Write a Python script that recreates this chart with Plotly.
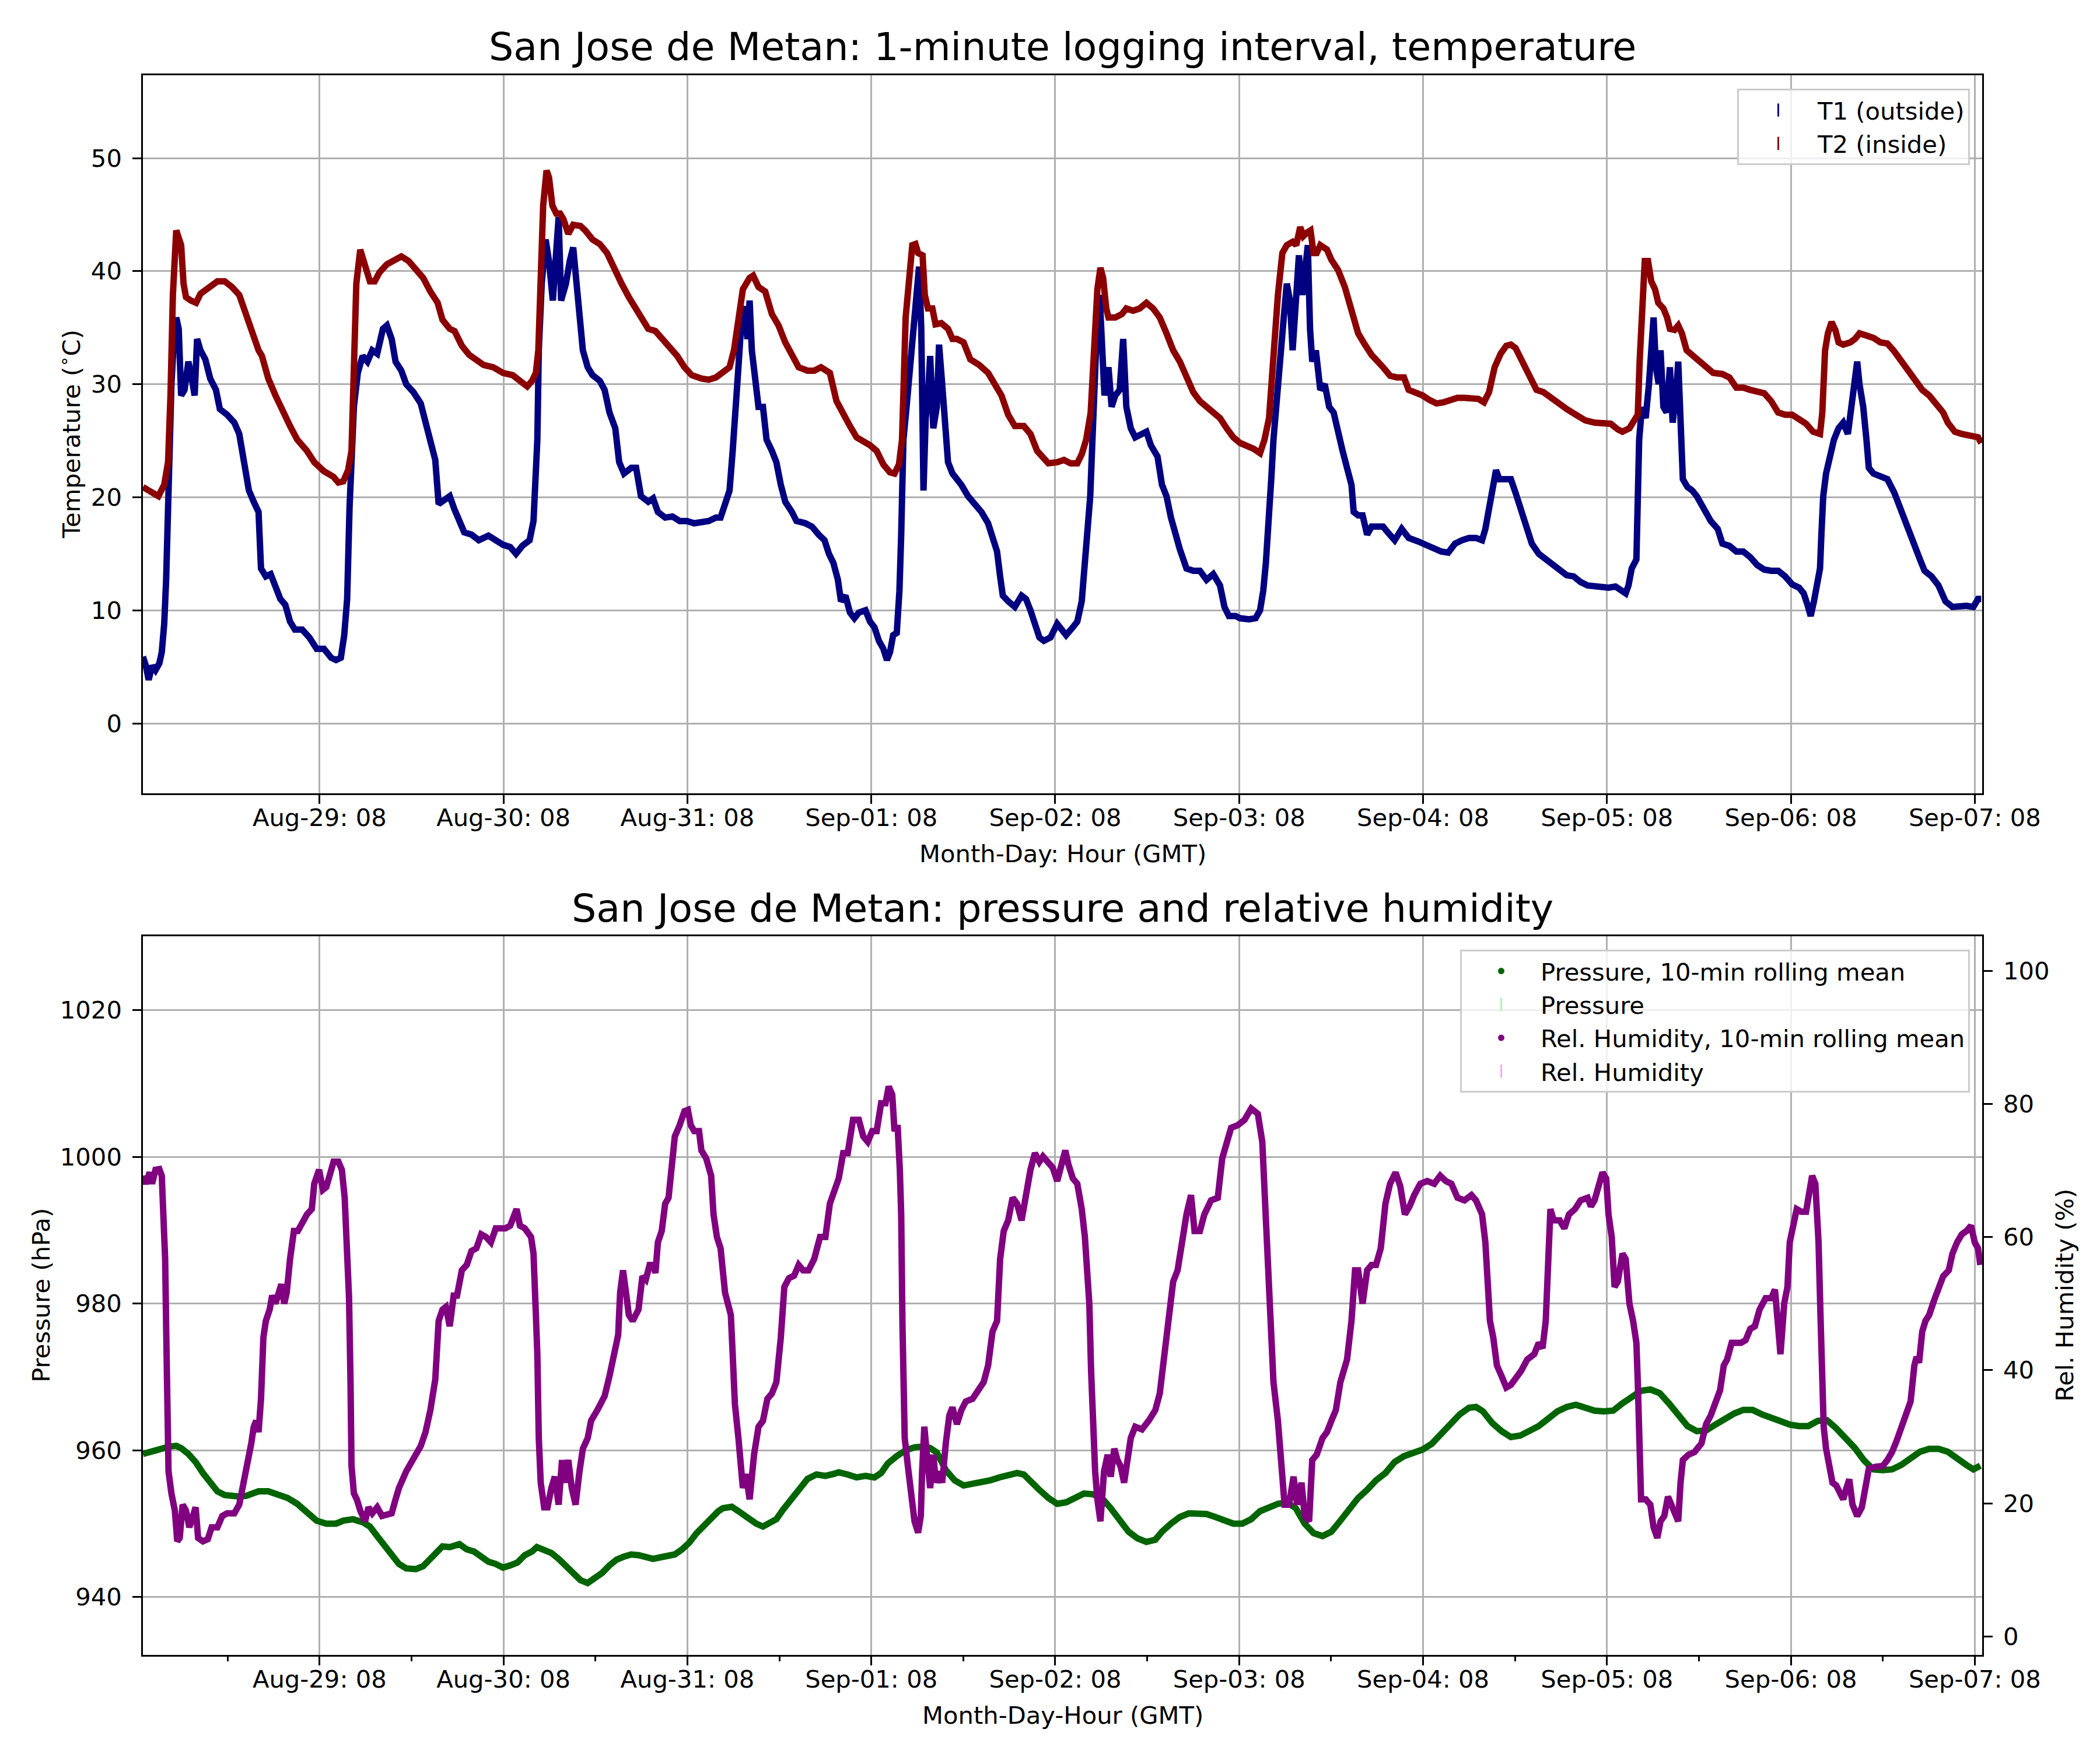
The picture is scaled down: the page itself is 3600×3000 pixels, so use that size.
import pandas as pd
import plotly.graph_objects as go

# all times are hours after 2022-08-28 00:00 GMT
START = pd.Timestamp("2022-08-28 00:00")

# outside temperature T1 (deg C)
T1_OUTSIDE = [
    (8.95, 5.9), (9.33, 5.1), (9.70, 3.85), (10.15, 5.1), (10.59, 4.7), (11.09, 5.3), (11.41, 6.3),
    (11.73, 8.8), (11.98, 12.7), (12.17, 19.2), (12.42, 26.1), (12.67, 30.0), (12.99, 34.0),
    (13.30, 35.9), (13.62, 34.9), (13.94, 29.0), (14.38, 29.5), (14.88, 32.0), (15.33, 30.5),
    (15.70, 29.0), (16.02, 34.0), (16.46, 33.0), (17.09, 32.2), (17.73, 30.5), (18.48, 29.5),
    (18.99, 27.8), (19.94, 27.3), (20.88, 26.6), (21.52, 25.6), (22.15, 23.1), (22.78, 20.6),
    (23.41, 19.6), (24.04, 18.7), (24.36, 13.7), (24.99, 13.0), (25.62, 13.2), (26.25, 12.2),
    (26.88, 11.0), (27.52, 10.5), (28.15, 9.0), (28.78, 8.3), (29.73, 8.3), (30.67, 7.6),
    (31.62, 6.6), (32.57, 6.6), (33.52, 5.8), (34.15, 5.6), (34.78, 5.8), (35.22, 7.8),
    (35.60, 11.0), (35.92, 19.2), (36.17, 23.1), (36.48, 28.0), (36.99, 31.0), (37.62, 32.5),
    (38.25, 32.0), (38.88, 33.0), (39.52, 32.7), (40.27, 34.9), (40.78, 35.2), (41.41, 34.0),
    (41.92, 32.0), (42.67, 31.2), (43.31, 30.0), (44.25, 29.3), (45.20, 28.3), (45.83, 26.6),
    (46.46, 24.6), (47.10, 23.3), (47.54, 19.4), (48.36, 19.9), (48.99, 20.1), (49.62, 18.9),
    (50.25, 17.7), (50.88, 16.9), (51.83, 16.7), (52.78, 16.2), (54.04, 16.6), (54.99, 16.2),
    (55.94, 15.8), (56.88, 15.6), (57.64, 15.0), (58.46, 15.7), (59.41, 16.2), (59.92, 17.9),
    (60.17, 20.6), (60.42, 25.1), (60.61, 33.0), (60.99, 38.9), (61.50, 42.8), (61.94, 40.9),
    (62.44, 37.4), (62.89, 41.9), (63.20, 44.8), (63.52, 37.4), (64.15, 38.9), (64.65, 40.9),
    (65.10, 42.1), (65.54, 38.9), (65.92, 35.4), (66.36, 33.0), (66.99, 31.5), (67.62, 30.8),
    (68.57, 30.3), (69.20, 29.5), (69.83, 27.5), (70.59, 26.1), (71.10, 23.1), (71.73, 22.1),
    (72.67, 22.6), (73.31, 22.6), (73.94, 20.1), (74.89, 19.6), (75.52, 19.9), (76.15, 18.7),
    (77.10, 18.2), (78.04, 18.3), (78.99, 17.9), (79.94, 17.9), (80.89, 17.7), (81.83, 17.8),
    (82.78, 17.9), (83.73, 18.2), (84.33, 18.2), (84.92, 19.4), (85.50, 20.6), (85.91, 24.1),
    (86.26, 28.5), (86.66, 31.5), (87.07, 35.9), (87.42, 36.9), (87.83, 34.0), (88.12, 37.4),
    (88.41, 33.0), (88.82, 30.0), (89.28, 28.0), (89.86, 28.0), (90.33, 25.1), (91.03, 24.1),
    (91.61, 23.1), (92.19, 21.1), (92.77, 19.6), (93.64, 18.7), (94.23, 17.9), (95.39, 17.7),
    (96.26, 17.4), (97.13, 16.7), (97.89, 16.2), (98.47, 15.0), (99.05, 14.2), (99.64, 12.7),
    (100.04, 10.8), (100.63, 11.3), (101.21, 9.8), (101.79, 9.3), (102.37, 9.8), (103.24, 10.0),
    (103.83, 9.0), (104.41, 8.5), (104.99, 7.3), (105.57, 6.6), (106.04, 5.6), (106.44, 6.3),
    (106.85, 7.8), (107.32, 8.0), (107.67, 11.7), (107.90, 16.7), (108.19, 25.1), (108.60, 28.0),
    (109.06, 31.5), (109.53, 35.4), (109.93, 38.4), (110.23, 40.4), (110.52, 34.9), (110.81, 20.6),
    (111.10, 27.0), (111.39, 29.0), (111.68, 32.5), (112.09, 26.1), (112.55, 28.0), (112.84, 33.5),
    (113.25, 30.0), (113.72, 26.6), (114.01, 23.1), (114.59, 22.1), (115.17, 21.6), (115.75, 21.1),
    (116.62, 20.1), (117.50, 19.4), (118.37, 18.7), (119.24, 17.7), (119.82, 16.2), (120.41, 15.2),
    (120.81, 13.0), (121.16, 11.3), (121.86, 10.8), (122.73, 10.3), (123.61, 11.3), (124.19, 11.0),
    (124.77, 10.0), (125.35, 8.8), (125.93, 7.6), (126.52, 7.3), (127.39, 7.6), (128.26, 8.8),
    (128.84, 8.3), (129.42, 7.8), (130.30, 8.5), (130.88, 9.0), (131.46, 10.8), (131.87, 13.7),
    (132.22, 16.7), (132.57, 20.1), (132.80, 24.1), (133.03, 29.0), (133.38, 34.0), (133.79, 37.9),
    (134.08, 34.0), (134.43, 29.0), (134.95, 31.5), (135.36, 28.0), (135.83, 29.0), (136.41, 29.5),
    (136.87, 34.0), (137.28, 28.0), (137.86, 26.1), (138.44, 25.3), (139.32, 25.6), (139.90, 25.8),
    (140.48, 24.6), (141.35, 23.6), (141.93, 21.1), (142.52, 20.1), (143.10, 18.2), (143.68, 16.7),
    (144.26, 15.4), (145.13, 13.7), (146.01, 13.5), (146.88, 13.5), (147.75, 12.7), (148.62, 13.2),
    (149.50, 12.2), (150.08, 10.3), (150.66, 9.5), (151.53, 9.5), (152.12, 9.3), (153.28, 9.2),
    (154.15, 9.3), (154.73, 10.0), (155.14, 11.7), (155.49, 14.2), (155.90, 17.7), (156.19, 21.6),
    (156.48, 25.1), (156.89, 28.0), (157.35, 32.0), (157.82, 35.9), (158.22, 38.9), (158.63, 37.4),
    (158.98, 33.0), (159.39, 37.9), (159.80, 41.4), (160.26, 37.9), (160.67, 41.4), (160.96, 42.3),
    (161.25, 34.9), (161.54, 32.0), (162.01, 33.0), (162.59, 29.5), (163.17, 30.0), (163.75, 28.0),
    (164.33, 27.5), (164.91, 25.6), (165.50, 24.1), (166.08, 22.6), (166.66, 21.1), (166.95, 18.7),
    (167.53, 18.4), (168.11, 18.4), (168.70, 16.7), (169.28, 17.4), (169.86, 17.4), (170.78, 17.4),
    (171.39, 16.9), (172.30, 16.2), (173.21, 17.2), (174.12, 16.4), (175.33, 16.1), (176.55, 15.7),
    (177.46, 15.4), (178.37, 15.2), (179.28, 15.1), (180.18, 15.9), (181.09, 16.2), (182.00, 16.4),
    (182.91, 16.4), (183.70, 16.2), (184.13, 17.2), (184.73, 19.2), (185.16, 21.1), (185.52, 22.4),
    (185.95, 21.6), (186.86, 21.6), (187.46, 21.6), (188.07, 20.4), (188.68, 19.2), (189.28, 17.7),
    (190.19, 15.9), (191.10, 15.0), (192.01, 14.5), (192.92, 14.0), (193.83, 13.5), (194.74, 13.1),
    (195.65, 13.0), (196.56, 12.5), (197.47, 12.2), (198.38, 12.1), (199.29, 12.0), (200.20, 12.0),
    (201.11, 12.1), (201.72, 11.8), (202.44, 11.5), (202.81, 12.2), (203.23, 13.7), (203.84, 14.5),
    (204.02, 19.2), (204.20, 25.1), (204.57, 28.0), (205.05, 27.0), (205.48, 30.0), (205.78, 33.0),
    (206.08, 35.9), (206.39, 31.5), (206.75, 30.0), (206.99, 33.0), (207.36, 28.0), (207.78, 27.5),
    (208.21, 31.5), (208.57, 26.6), (208.99, 29.0), (209.30, 32.0), (209.60, 24.1), (209.90, 21.6),
    (210.51, 20.9), (211.12, 20.6), (211.72, 20.1), (212.33, 19.4), (212.94, 18.7), (213.54, 17.9),
    (214.45, 17.2), (215.06, 15.9), (215.97, 15.7), (216.88, 15.2), (217.79, 15.2), (218.70, 14.7),
    (219.61, 14.0), (220.52, 13.6), (221.43, 13.5), (222.34, 13.5), (223.25, 13.0), (224.16, 12.3),
    (225.07, 12.0), (225.67, 11.5), (226.16, 10.5), (226.58, 9.5), (227.01, 10.8), (227.49, 12.2),
    (227.80, 13.7), (227.98, 16.7), (228.22, 20.1), (228.59, 22.1), (229.01, 23.6), (229.62, 25.1),
    (230.22, 26.1), (230.83, 26.6), (231.44, 25.6), (231.86, 28.0), (232.22, 29.5), (232.65, 32.0),
    (232.95, 30.0), (233.44, 28.0), (233.86, 25.1), (234.17, 22.6), (234.77, 22.1), (235.68, 21.8),
    (236.59, 21.6), (237.50, 20.4), (238.41, 18.7), (239.32, 17.2), (240.23, 15.7), (240.84, 14.5),
    (241.44, 13.5), (242.35, 13.0), (243.26, 12.2), (244.17, 10.8), (245.08, 10.3), (245.99, 10.4),
    (246.90, 10.4), (247.81, 10.3), (248.42, 11.0), (248.84, 11.0),
]

# inside temperature T2 (deg C)
T2_INSIDE = [
    (8.95, 20.9), (9.83, 20.6), (10.97, 20.1), (11.73, 21.1), (12.23, 23.1), (12.55, 29.0),
    (12.86, 37.9), (13.30, 43.6), (13.94, 42.3), (14.25, 38.9), (14.57, 37.7), (15.20, 37.4),
    (15.89, 37.2), (16.46, 38.0), (17.41, 38.5), (18.67, 39.1), (19.62, 39.1), (20.57, 38.6),
    (21.52, 37.9), (22.46, 35.9), (23.41, 34.0), (24.04, 33.0), (24.48, 32.5), (25.31, 30.5),
    (26.25, 29.0), (27.20, 27.5), (28.15, 26.3), (29.09, 25.1), (30.36, 24.1), (31.31, 23.1),
    (32.57, 22.3), (33.83, 21.8), (34.46, 21.3), (35.09, 21.4), (35.73, 22.4), (36.17, 24.1),
    (36.48, 31.5), (36.80, 38.9), (37.31, 41.9), (37.94, 40.4), (38.57, 39.1), (39.20, 39.1),
    (39.83, 39.9), (40.78, 40.6), (41.73, 41.0), (42.67, 41.3), (43.62, 40.9), (44.57, 40.1),
    (45.52, 39.4), (46.46, 38.2), (47.41, 37.2), (48.04, 35.7), (48.99, 34.9), (49.62, 34.7),
    (50.57, 33.4), (51.52, 32.6), (52.46, 32.2), (53.41, 31.7), (54.67, 31.5), (55.94, 31.0),
    (57.20, 30.8), (58.15, 30.3), (59.10, 29.8), (59.73, 30.3), (60.23, 31.0), (60.55, 33.0),
    (60.86, 39.9), (61.18, 45.8), (61.62, 48.9), (61.94, 48.3), (62.38, 45.8), (62.89, 45.1),
    (63.39, 45.1), (63.83, 44.6), (64.46, 43.3), (65.10, 44.1), (66.04, 44.0), (66.67, 43.6),
    (67.62, 42.8), (68.57, 42.4), (69.52, 41.6), (70.46, 40.1), (71.41, 38.9), (72.36, 37.7),
    (73.62, 36.4), (74.89, 34.9), (75.83, 34.7), (76.78, 34.0), (77.73, 33.2), (78.67, 32.5),
    (79.62, 31.5), (80.57, 30.8), (81.83, 30.5), (82.78, 30.4), (83.73, 30.6), (84.04, 30.75),
    (85.50, 31.5), (86.08, 33.0), (86.66, 35.9), (87.24, 38.4), (88.12, 39.4), (88.58, 39.6),
    (89.28, 38.6), (90.15, 38.2), (91.03, 36.2), (91.90, 35.2), (92.77, 33.7), (93.64, 32.5),
    (94.52, 31.5), (95.68, 31.2), (96.55, 31.2), (97.43, 31.5), (98.59, 31.0), (99.46, 28.5),
    (100.33, 27.3), (101.21, 26.3), (102.08, 25.3), (102.95, 25.0), (103.83, 24.6), (104.70, 24.1),
    (105.57, 22.9), (106.44, 22.2), (107.03, 22.1), (107.61, 22.9), (108.01, 25.1), (108.48, 35.9),
    (108.95, 39.9), (109.35, 42.3), (109.76, 42.4), (110.11, 41.6), (110.69, 41.4), (110.98, 37.9),
    (111.39, 36.7), (111.97, 36.7), (112.38, 35.3), (113.13, 35.4), (114.01, 34.9), (114.59, 34.0),
    (115.17, 34.0), (116.04, 33.7), (116.92, 32.2), (118.08, 31.7), (119.24, 31.0), (120.12, 30.0),
    (120.99, 29.0), (121.86, 27.3), (122.73, 26.3), (123.90, 26.3), (124.77, 25.6), (125.64, 24.1),
    (126.52, 23.5), (127.10, 23.0), (128.26, 23.1), (129.13, 23.3), (130.01, 23.0), (130.88, 23.0),
    (131.46, 23.8), (132.04, 25.1), (132.63, 27.5), (133.03, 34.0), (133.50, 38.4), (133.90, 40.3),
    (134.25, 39.4), (134.66, 36.7), (134.95, 35.9), (135.83, 35.9), (136.70, 36.2), (137.28, 36.7),
    (138.15, 36.5), (139.02, 36.7), (139.90, 37.2), (140.77, 36.7), (141.64, 35.9), (142.52, 34.5),
    (143.39, 33.0), (144.26, 32.0), (145.13, 30.8), (146.01, 29.3), (146.88, 28.5), (147.75, 28.0),
    (148.62, 27.5), (149.50, 27.0), (150.37, 26.1), (151.24, 25.3), (152.12, 24.8), (152.99, 24.6),
    (153.86, 24.3), (154.73, 23.9), (155.31, 25.1), (155.90, 27.0), (156.48, 33.0), (157.06, 37.9),
    (157.64, 41.6), (158.22, 42.3), (158.98, 42.6), (159.45, 42.3), (159.97, 43.9), (160.38, 43.1),
    (160.84, 43.4), (161.31, 43.6), (161.71, 41.6), (162.12, 41.6), (162.59, 42.3), (163.46, 41.9),
    (164.04, 41.0), (164.91, 40.1), (165.79, 38.6), (166.66, 36.7), (167.53, 34.5), (168.41, 33.5),
    (169.28, 32.6), (170.78, 31.5), (171.69, 30.75), (172.60, 30.6), (173.51, 30.6), (174.12, 29.5),
    (175.03, 29.3), (175.94, 29.0), (176.85, 28.6), (177.76, 28.3), (178.67, 28.4), (179.58, 28.6),
    (180.49, 28.8), (181.40, 28.8), (182.31, 28.7), (183.22, 28.7), (183.95, 28.4), (184.61, 29.3),
    (185.34, 31.5), (186.13, 32.7), (186.86, 33.4), (187.46, 33.5), (188.07, 33.2), (188.98, 32.0),
    (189.89, 30.5), (190.80, 29.5), (191.71, 29.3), (192.62, 28.8), (193.53, 28.3), (194.74, 27.8),
    (195.95, 27.3), (197.17, 26.8), (198.38, 26.6), (199.59, 26.5), (200.50, 26.5), (201.41, 26.0),
    (202.02, 25.8), (202.93, 26.1), (203.54, 26.8), (204.02, 27.3), (204.26, 32.0), (204.57, 37.4),
    (204.93, 40.9), (205.36, 40.9), (205.78, 39.1), (206.27, 38.4), (206.69, 37.2), (207.36, 36.7),
    (207.84, 35.9), (208.21, 34.9), (208.81, 34.8), (209.30, 35.2), (209.78, 34.5), (210.39, 33.0),
    (211.12, 32.6), (212.03, 32.0), (212.94, 31.5), (213.85, 31.0), (215.06, 30.9), (215.97, 30.6),
    (216.88, 29.7), (217.79, 29.7), (218.70, 29.5), (219.61, 29.4), (220.52, 29.2), (221.43, 28.5),
    (222.34, 27.5), (223.25, 27.3), (224.16, 27.3), (225.07, 26.9), (225.98, 26.5), (226.89, 25.8),
    (227.80, 25.6), (228.10, 27.5), (228.46, 33.0), (228.83, 34.5), (229.31, 35.5), (229.80, 34.8),
    (230.22, 33.7), (230.83, 33.5), (231.74, 33.7), (232.35, 34.0), (232.95, 34.5), (233.86, 34.3),
    (234.77, 34.1), (235.68, 33.7), (236.59, 33.6), (237.50, 32.9), (238.41, 32.0), (239.32, 31.2),
    (240.23, 30.4), (241.14, 29.5), (242.05, 29.0), (242.96, 28.3), (243.87, 27.5), (244.48, 26.6),
    (245.39, 25.8), (246.30, 25.6), (247.21, 25.5), (248.42, 25.3), (248.84, 24.8),
]

# pressure, 10-min rolling mean (hPa)
PRESSURE = [
    (8.95, 959.5), (9.83, 959.8), (11.09, 960.2), (12.36, 960.5), (13.30, 960.6), (13.94, 960.3),
    (14.88, 959.5), (15.83, 958.4), (16.78, 956.9), (17.73, 955.6), (18.67, 954.4), (19.62, 953.9),
    (20.57, 953.7), (21.52, 953.7), (22.46, 953.8), (23.41, 954.2), (24.04, 954.4), (25.31, 954.4),
    (26.57, 954.0), (27.83, 953.5), (29.09, 952.7), (30.36, 951.4), (31.62, 950.4), (32.88, 950.0),
    (34.15, 950.0), (35.09, 950.4), (36.36, 950.6), (37.62, 950.2), (38.57, 949.6), (39.52, 948.3),
    (40.46, 947.0), (41.41, 945.7), (42.36, 944.5), (43.31, 943.9), (44.57, 943.8), (45.52, 944.2),
    (46.46, 945.1), (47.41, 946.1), (48.04, 946.9), (48.99, 946.8), (50.25, 947.2), (51.20, 946.5),
    (52.15, 946.2), (53.10, 945.5), (54.04, 944.8), (54.99, 944.5), (55.94, 944.0), (56.88, 944.3),
    (57.83, 944.7), (58.78, 945.7), (59.73, 946.2), (60.36, 946.8), (61.31, 946.4), (62.25, 946.0),
    (63.20, 945.2), (64.15, 944.2), (65.10, 943.2), (66.04, 942.3), (66.99, 941.9), (67.94, 942.6),
    (68.89, 943.3), (69.83, 944.3), (70.78, 945.1), (71.73, 945.5), (72.67, 945.8), (73.62, 945.7),
    (74.57, 945.4), (75.52, 945.2), (76.46, 945.4), (77.41, 945.5), (78.36, 945.8), (79.31, 946.5),
    (80.25, 947.4), (81.20, 948.7), (82.15, 949.8), (83.10, 950.9), (84.04, 951.7), (84.63, 952.1),
    (85.79, 952.3), (86.66, 951.7), (87.83, 950.8), (88.99, 950.0), (89.86, 949.6), (90.73, 950.0),
    (91.61, 950.6), (92.48, 951.9), (93.64, 953.5), (94.81, 955.0), (95.68, 956.1), (96.84, 956.7),
    (98.01, 956.5), (99.17, 956.8), (99.75, 957.0), (100.92, 956.7), (102.08, 956.3), (103.24, 956.5),
    (104.41, 956.3), (105.28, 956.9), (106.15, 958.2), (107.32, 959.2), (108.48, 960.0), (109.64, 960.4),
    (110.81, 960.5), (111.68, 960.3), (112.55, 959.7), (113.72, 957.3), (114.88, 955.9), (116.04, 955.2),
    (117.21, 955.4), (118.37, 955.5), (119.53, 955.9), (120.70, 956.3), (121.86, 956.7), (123.02, 956.9),
    (123.90, 956.7), (124.77, 955.7), (125.93, 954.6), (127.10, 953.5), (128.26, 952.7), (129.42, 952.9),
    (130.59, 953.5), (131.75, 954.1), (132.92, 954.0), (134.08, 953.5), (135.24, 952.1), (136.41, 950.3),
    (137.57, 948.9), (138.73, 948.0), (139.90, 947.5), (141.06, 947.8), (141.93, 948.9), (143.10, 950.0),
    (144.26, 950.9), (145.42, 951.4), (146.59, 951.4), (147.75, 951.3), (148.91, 950.9), (150.08, 950.4),
    (151.24, 950.0), (152.41, 950.0), (153.57, 950.6), (154.73, 951.7), (155.90, 952.3), (157.06, 952.7),
    (158.22, 952.9), (159.39, 952.1), (160.55, 950.0), (161.71, 948.7), (162.88, 948.3), (164.04, 948.9),
    (165.21, 950.4), (166.37, 951.9), (167.53, 953.5), (168.70, 954.6), (169.86, 955.9), (171.09, 956.9),
    (172.30, 958.4), (173.51, 959.2), (174.73, 959.7), (175.94, 960.1), (177.15, 960.9), (178.37, 962.2),
    (179.58, 963.5), (180.79, 964.9), (182.00, 965.8), (182.91, 965.9), (183.82, 965.3), (185.04, 963.7),
    (186.25, 962.6), (187.46, 961.8), (188.68, 962.0), (189.89, 962.6), (191.10, 963.3), (192.32, 964.3),
    (193.53, 965.3), (194.74, 965.9), (195.95, 966.2), (197.17, 965.8), (198.38, 965.4), (199.59, 965.3),
    (200.81, 965.4), (202.02, 966.4), (203.23, 967.3), (204.45, 968.1), (205.66, 968.3), (206.87, 967.8),
    (208.08, 966.4), (209.30, 964.7), (210.51, 963.3), (211.72, 962.6), (212.94, 962.7), (214.15, 963.5),
    (215.36, 964.3), (216.58, 965.0), (217.79, 965.5), (219.00, 965.5), (220.22, 964.9), (221.43, 964.4),
    (222.64, 964.0), (223.85, 963.5), (225.07, 963.3), (226.28, 963.3), (227.49, 964.0), (228.71, 964.1),
    (229.91, 963.0), (231.13, 961.8), (232.35, 960.3), (233.56, 958.6), (234.77, 957.4), (235.98, 957.3),
    (237.20, 957.4), (238.41, 958.0), (239.62, 958.9), (240.84, 959.8), (242.05, 960.2), (243.26, 960.2),
    (244.48, 959.8), (245.69, 958.8), (246.90, 958.0), (247.81, 957.4), (248.72, 957.9),
]

# relative humidity, 10-min rolling mean (%)
REL_HUMIDITY = [
    (8.95, 69.2), (9.33, 68.0), (9.83, 69.7), (10.15, 68.0), (10.59, 70.1), (11.09, 70.2), (11.41, 69.2),
    (11.60, 63.4), (11.85, 56.7), (12.04, 42.4), (12.17, 29.8), (12.29, 24.8), (12.67, 21.5),
    (13.12, 18.9), (13.43, 14.3), (13.75, 14.8), (14.13, 19.8), (14.57, 18.9), (15.01, 16.4),
    (15.52, 18.9), (15.83, 19.4), (16.15, 14.8), (16.78, 14.3), (17.41, 14.6), (17.92, 16.4),
    (18.67, 16.4), (19.30, 18.1), (19.94, 18.5), (20.88, 18.5), (21.52, 19.8), (21.83, 21.5),
    (22.15, 23.6), (22.46, 25.2), (22.78, 26.9), (23.09, 29.0), (23.41, 31.5), (23.73, 32.4),
    (24.04, 30.7), (24.36, 35.7), (24.67, 44.9), (24.99, 47.4), (25.49, 49.1), (25.81, 51.2),
    (26.25, 50.0), (26.57, 51.6), (27.01, 52.9), (27.39, 50.0), (27.71, 51.6), (28.15, 56.7),
    (28.65, 60.9), (29.16, 60.9), (29.73, 62.1), (30.36, 63.4), (30.99, 64.2), (31.31, 68.0),
    (31.94, 70.1), (32.44, 67.1), (32.88, 67.5), (33.33, 69.2), (33.83, 71.3), (34.46, 71.3),
    (34.91, 70.1), (35.28, 65.9), (35.60, 59.2), (35.85, 50.8), (36.04, 38.2), (36.17, 25.6),
    (36.48, 21.5), (36.86, 20.6), (37.31, 18.9), (37.94, 17.3), (38.38, 19.4), (38.88, 18.5),
    (39.52, 19.4), (40.15, 18.1), (40.78, 18.3), (41.41, 18.5), (41.92, 20.6), (42.36, 22.3),
    (43.31, 24.8), (44.25, 26.5), (45.20, 28.6), (45.83, 30.7), (46.46, 34.0), (47.10, 38.6),
    (47.54, 47.4), (48.04, 49.1), (48.48, 49.5), (48.99, 46.6), (49.50, 51.2), (49.94, 51.2),
    (50.57, 55.0), (51.20, 55.8), (51.83, 57.9), (52.46, 58.3), (53.10, 60.4), (53.73, 60.0),
    (54.36, 59.2), (54.99, 61.3), (55.62, 61.3), (56.25, 61.3), (56.88, 61.7), (57.71, 64.2),
    (58.15, 61.7), (58.78, 61.3), (59.60, 60.0), (59.92, 57.5), (60.23, 48.3), (60.42, 42.4),
    (60.61, 29.8), (60.86, 23.1), (61.31, 19.4), (61.75, 19.4), (62.25, 22.3), (62.70, 24.0),
    (63.20, 19.8), (63.64, 26.5), (64.02, 23.1), (64.46, 26.5), (64.91, 22.3), (65.41, 19.8),
    (65.92, 24.8), (66.36, 28.2), (66.99, 29.8), (67.43, 32.4), (68.25, 34.0), (69.20, 36.1),
    (69.83, 39.1), (70.46, 42.4), (70.97, 45.3), (71.22, 51.6), (71.60, 55.0), (72.04, 51.2),
    (72.36, 48.3), (72.86, 47.4), (73.62, 49.1), (74.13, 54.1), (74.57, 53.6), (75.07, 55.8),
    (75.52, 55.8), (75.83, 54.6), (76.15, 59.2), (76.65, 60.9), (77.10, 65.0), (77.54, 65.9),
    (77.92, 70.9), (78.36, 75.1), (78.99, 76.8), (79.62, 78.9), (80.06, 79.1), (80.44, 76.8),
    (80.89, 75.9), (81.52, 75.9), (81.83, 73.0), (82.46, 71.8), (83.10, 69.2), (83.41, 63.4),
    (83.85, 60.0), (84.33, 58.3), (84.92, 51.6), (85.67, 48.3), (85.91, 42.4), (86.20, 34.9),
    (86.66, 29.8), (87.24, 22.3), (87.65, 24.4), (88.12, 20.6), (88.70, 27.3), (89.28, 31.5),
    (89.86, 32.4), (90.44, 35.7), (91.03, 36.5), (91.61, 38.2), (92.19, 44.9), (92.65, 52.5),
    (93.24, 53.8), (93.93, 54.2), (94.52, 55.8), (95.10, 55.0), (95.80, 55.0), (96.55, 56.7),
    (97.31, 60.0), (98.01, 60.0), (98.59, 65.0), (99.17, 66.7), (99.75, 68.8), (100.33, 72.6),
    (100.92, 72.6), (101.61, 77.6), (102.37, 77.6), (102.95, 75.1), (103.53, 74.3), (104.12, 75.9),
    (104.70, 75.9), (105.28, 80.1), (105.86, 80.1), (106.27, 82.6), (106.73, 81.4), (107.03, 75.9),
    (107.43, 76.8), (107.72, 70.1), (107.90, 63.4), (108.07, 46.6), (108.36, 29.8), (108.77, 25.6),
    (109.18, 21.5), (109.64, 17.3), (110.11, 15.6), (110.46, 18.1), (110.63, 24.8), (110.92, 31.5),
    (111.39, 25.6), (111.68, 22.3), (112.09, 27.3), (112.44, 23.1), (112.84, 24.8), (113.25, 23.1),
    (113.72, 29.0), (114.18, 33.2), (114.59, 34.4), (115.17, 31.9), (115.75, 34.0), (116.33, 35.3),
    (117.21, 35.7), (118.08, 37.4), (118.66, 38.2), (119.24, 40.7), (119.82, 45.8), (120.41, 47.4),
    (120.81, 56.7), (121.28, 60.9), (121.86, 62.5), (122.44, 65.9), (123.02, 65.0), (123.61, 62.5),
    (124.19, 66.7), (124.77, 70.1), (125.35, 72.6), (125.93, 71.3), (126.40, 72.1), (127.10, 71.3),
    (127.68, 70.4), (128.26, 68.4), (128.84, 71.3), (129.31, 73.0), (129.72, 70.9), (130.30, 68.8),
    (130.88, 68.0), (131.46, 64.2), (131.87, 60.0), (132.22, 55.0), (132.45, 50.0), (132.68, 39.9),
    (132.92, 29.8), (133.21, 24.8), (133.50, 20.6), (133.90, 17.3), (134.37, 24.8), (134.84, 27.3),
    (135.24, 24.0), (135.71, 28.2), (136.12, 26.5), (136.52, 25.6), (136.99, 23.1), (137.45, 27.3),
    (137.86, 29.8), (138.44, 31.5), (139.32, 31.1), (140.19, 32.4), (141.06, 34.0), (141.64, 36.5),
    (142.22, 41.6), (142.81, 46.6), (143.39, 53.3), (143.97, 55.0), (144.55, 60.0), (145.13, 63.4),
    (145.72, 66.3), (146.18, 60.9), (146.88, 60.9), (147.46, 63.4), (148.33, 65.5), (149.21, 65.9),
    (149.79, 71.8), (150.37, 74.3), (150.95, 76.4), (151.82, 76.8), (152.70, 77.6), (153.57, 79.3),
    (154.44, 78.5), (155.02, 74.3), (155.49, 63.4), (155.90, 55.0), (156.19, 46.6), (156.48, 38.2),
    (157.06, 32.4), (157.47, 25.6), (157.93, 19.8), (158.51, 19.8), (159.10, 24.0), (159.56, 19.8),
    (160.14, 23.1), (160.55, 18.1), (161.13, 17.3), (161.54, 26.5), (162.12, 27.3), (162.88, 29.8),
    (163.46, 30.7), (164.04, 32.4), (164.62, 34.0), (165.21, 38.2), (166.08, 41.6), (166.66, 47.4),
    (167.12, 55.0), (167.53, 55.0), (168.11, 50.0), (168.70, 55.0), (169.28, 55.8), (169.86, 55.8),
    (170.48, 58.3), (171.09, 65.0), (171.69, 68.0), (172.42, 69.7), (173.03, 67.6), (173.63, 63.4),
    (174.24, 64.6), (174.85, 66.3), (175.64, 68.0), (176.55, 68.4), (177.46, 68.0), (178.24, 69.2),
    (178.97, 68.4), (179.70, 68.0), (180.49, 65.9), (181.40, 65.5), (182.31, 66.3), (182.91, 65.5),
    (183.70, 63.4), (184.13, 59.2), (184.43, 52.5), (184.73, 47.4), (185.16, 44.9), (185.64, 40.7),
    (186.25, 39.1), (186.86, 37.4), (187.46, 37.8), (188.07, 38.6), (188.80, 39.9), (189.59, 41.6),
    (190.50, 42.4), (191.10, 44.1), (191.59, 43.3), (192.01, 47.4), (192.32, 59.2), (192.62, 64.2),
    (193.04, 62.5), (193.83, 62.5), (194.44, 61.3), (195.04, 63.4), (195.83, 64.2), (196.56, 65.5),
    (197.47, 65.9), (197.90, 64.6), (198.38, 65.5), (198.99, 67.6), (199.41, 69.7), (199.90, 68.8),
    (200.20, 63.4), (200.62, 60.0), (200.99, 52.5), (201.41, 53.3), (202.02, 57.5), (202.44, 56.7),
    (202.93, 50.0), (203.41, 47.4), (203.84, 44.1), (204.02, 38.2), (204.14, 29.8), (204.26, 25.6),
    (204.45, 20.6), (205.05, 20.6), (205.66, 19.8), (206.08, 16.4), (206.57, 14.8), (206.99, 17.3),
    (207.48, 18.1), (207.96, 21.0), (208.39, 19.8), (208.81, 18.1), (209.30, 17.3), (209.60, 23.1),
    (209.90, 26.5), (210.63, 27.3), (211.42, 27.7), (212.33, 29.0), (212.94, 31.9), (213.54, 33.2),
    (214.15, 35.3), (214.76, 37.0), (215.24, 40.7), (215.67, 41.6), (216.27, 44.1), (216.88, 44.1),
    (217.49, 44.1), (218.09, 44.5), (218.70, 46.2), (219.30, 46.6), (219.91, 49.1), (220.70, 50.8),
    (221.43, 50.8), (221.92, 52.1), (222.22, 46.6), (222.64, 42.4), (223.13, 50.0), (223.55, 52.5),
    (223.85, 59.2), (224.34, 61.7), (224.76, 64.2), (225.37, 63.8), (225.98, 63.8), (226.40, 66.7),
    (226.77, 69.2), (227.19, 68.0), (227.61, 59.2), (227.86, 48.3), (228.04, 38.2), (228.28, 31.5),
    (228.59, 28.2), (229.01, 25.6), (229.43, 23.1), (229.91, 22.7), (230.40, 21.5), (230.83, 20.6),
    (231.25, 22.3), (231.62, 23.6), (232.04, 19.8), (232.65, 18.1), (233.26, 19.4), (233.74, 23.1),
    (234.17, 25.2), (235.07, 25.5), (235.98, 25.6), (236.59, 26.5), (237.20, 27.7), (237.80, 29.4),
    (238.41, 31.5), (239.02, 33.2), (239.62, 35.3), (240.11, 40.7), (240.41, 42.0), (240.72, 41.1),
    (241.14, 45.8), (241.56, 47.4), (242.05, 48.3), (242.66, 50.4), (243.26, 52.5), (243.87, 54.1),
    (244.60, 55.0), (245.08, 57.5), (245.69, 59.2), (246.30, 60.4), (246.90, 60.9), (247.51, 61.7),
    (247.99, 59.2), (248.42, 58.3), (248.72, 55.8),
]

TICK_HOURS = [32, 56, 80, 104, 128, 152, 176, 200, 224, 248]
TICK_LABELS = ["Aug-29: 08", "Aug-30: 08", "Aug-31: 08", "Sep-01: 08", "Sep-02: 08",
               "Sep-03: 08", "Sep-04: 08", "Sep-05: 08", "Sep-06: 08", "Sep-07: 08"]
X_LIMITS = [8.95, 248.96]


def to_time(hours):
    return START + pd.to_timedelta(hours, unit="h")


def unzip(pairs):
    hours, vals = zip(*pairs)
    return to_time(list(hours)), list(vals)


FONT = "DejaVu Sans"
TICK_SIZE = 41.7
TITLE_SIZE = 66.7
GRID = "#b0b0b0"
LW = 3.3
DATA_W = 11

fig = go.Figure()

# top panel: temperatures
for pairs, name, color in [(T1_OUTSIDE, "T1 (outside)", "#000080"),
                           (T2_INSIDE, "T2 (inside)", "#8b0000")]:
    x, y = unzip(pairs)
    fig.add_trace(go.Scatter(x=x, y=y, mode="lines", line=dict(color=color, width=DATA_W),
                             name=name, xaxis="x", yaxis="y", showlegend=False))
    fig.add_trace(go.Scatter(x=[None], y=[None], mode="markers", name=name, xaxis="x", yaxis="y",
                             legend="legend",
                             marker=dict(symbol="line-ns-open", size=16, color=color,
                                         line=dict(width=3, color=color))))

# bottom panel: pressure (left) and humidity (right)
x, y = unzip(PRESSURE)
fig.add_trace(go.Scatter(x=x, y=y, mode="lines", line=dict(color="#006400", width=DATA_W),
                         xaxis="x2", yaxis="y3", showlegend=False))
x, y = unzip(REL_HUMIDITY)
fig.add_trace(go.Scatter(x=x, y=y, mode="lines", line=dict(color="#800080", width=DATA_W),
                         xaxis="x2", yaxis="y4", showlegend=False))

legend_items = [
    ("Pressure, 10-min rolling mean", "circle", "#006400", 9, "y3"),
    ("Pressure", "line-ns-open", "#90ee90", 16, "y3"),
    ("Rel. Humidity, 10-min rolling mean", "circle", "#800080", 9, "y4"),
    ("Rel. Humidity", "line-ns-open", "#ee82ee", 16, "y4"),
]
for name, symbol, color, size, yax in legend_items:
    fig.add_trace(go.Scatter(x=[None], y=[None], mode="markers", name=name, xaxis="x2", yaxis=yax,
                             legend="legend2",
                             marker=dict(symbol=symbol, size=size, color=color,
                                         line=dict(width=2, color=color))))

x_dom = [237 / 3600, 3390 / 3600]
top_dom = [1 - 1352 / 3000, 1 - 120.6 / 3000]
bot_dom = [1 - 2829 / 3000, 1 - 1596.7 / 3000]

axis_style = dict(
    showline=True, linecolor="black", linewidth=LW, ticks="outside", ticklen=14.6,
    tickwidth=LW, tickcolor="black", tickfont=dict(family=FONT, size=TICK_SIZE, color="black"),
    zeroline=False, automargin=False,
)
xaxis_common = dict(
    axis_style, type="date", range=[to_time(X_LIMITS[0]), to_time(X_LIMITS[1])],
    tickmode="array", tickvals=to_time(TICK_HOURS), ticktext=TICK_LABELS, ticklabelstandoff=-12,
    showgrid=True, gridcolor=GRID, gridwidth=LW, mirror=True, domain=x_dom,
)
legend_style = dict(
    x=3369 / 3600, xanchor="right", yanchor="top", bgcolor="rgba(255,255,255,0.8)",
    bordercolor="#cccccc", borderwidth=3, font=dict(family=FONT, size=TICK_SIZE, color="black"),
    itemwidth=125, tracegroupgap=0,
)

fig.update_layout(
    template="none",
    width=3600, height=3000,
    margin=dict(l=0, r=0, t=0, b=0, pad=0, autoexpand=False),
    paper_bgcolor="white", plot_bgcolor="white",
    font=dict(family=FONT, color="black"),
    xaxis=dict(xaxis_common, anchor="y"),
    yaxis=dict(axis_style, domain=top_dom, anchor="x", range=[-6.19, 57.35], tick0=0, dtick=10,
               showgrid=True, gridcolor=GRID, gridwidth=LW, mirror=True, ticklabelstandoff=10),
    xaxis2=dict(xaxis_common, anchor="y3",
                minor=dict(ticks="outside", ticklen=8.3, tickwidth=2.5, tickcolor="black",
                           tick0=to_time(20), dtick=86400000, showgrid=False)),
    yaxis3=dict(axis_style, domain=bot_dom, anchor="x2", range=[932.1, 1030.1], tick0=940, dtick=20,
                showgrid=True, gridcolor=GRID, gridwidth=LW, ticklabelstandoff=10),
    yaxis4=dict(axis_style, domain=bot_dom, anchor="x2", overlaying="y3", side="right",
                range=[-2.77, 105.2], tick0=0, dtick=20, showgrid=False, ticklabelstandoff=10),
    legend=dict(legend_style, y=1 - 144 / 3000),
    legend2=dict(legend_style, y=1 - 1620 / 3000),
)

label_font = dict(family=FONT, size=TICK_SIZE, color="black")
title_font = dict(family=FONT, size=TITLE_SIZE, color="black")
x_mid = (x_dom[0] + x_dom[1]) / 2
annotations = [
    dict(text="San Jose de Metan: 1-minute logging interval, temperature", x=x_mid, y=1 - 72 / 3000,
         font=title_font),
    dict(text="San Jose de Metan: pressure and relative humidity", x=x_mid, y=1 - 1549 / 3000,
         font=title_font),
    dict(text="Month-Day: Hour (GMT)", x=x_mid, y=1 - 1455 / 3000, font=label_font),
    dict(text="Month-Day-Hour (GMT)", x=x_mid, y=1 - 2932 / 3000, font=label_font),
    dict(text="Temperature (<sup>∘</sup>C)", x=112 / 3600, y=sum(top_dom) / 2, textangle=-90,
         font=label_font),
    dict(text="Pressure (hPa)", x=63 / 3600, y=sum(bot_dom) / 2, textangle=-90, font=label_font),
    dict(text="Rel. Humidity (%)", x=3532 / 3600, y=sum(bot_dom) / 2, textangle=-90,
         font=label_font),
]
for a in annotations:
    fig.add_annotation(xref="paper", yref="paper", showarrow=False, xanchor="center",
                       yanchor="middle", **a)

fig.write_html("out.html")
